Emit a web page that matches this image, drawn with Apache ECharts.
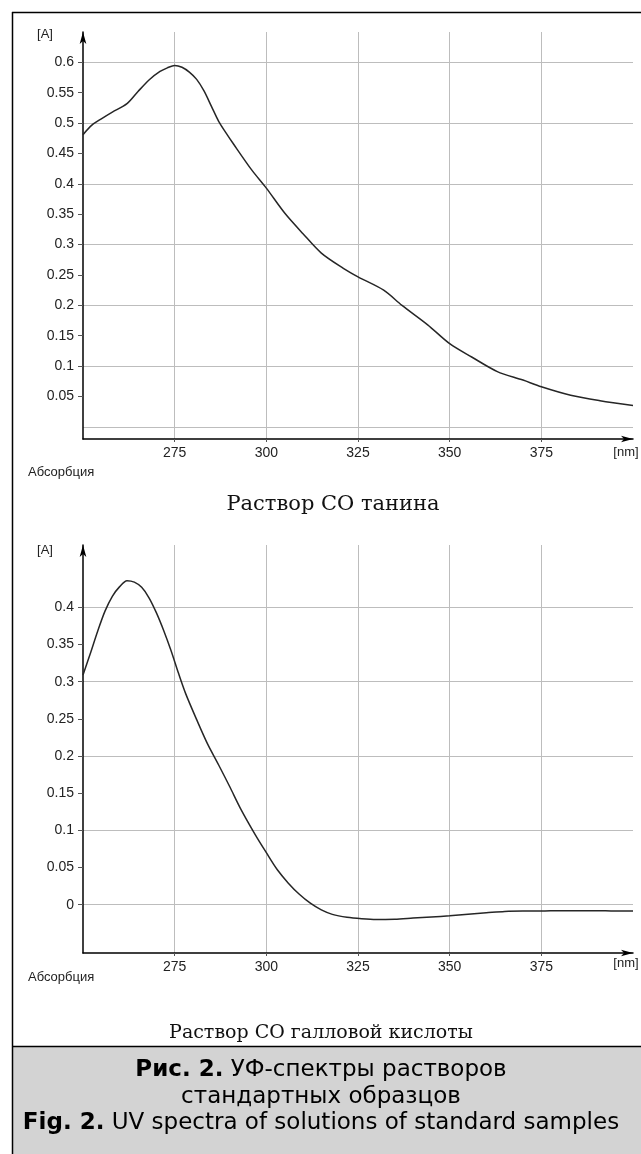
<!DOCTYPE html>
<html>
<head>
<meta charset="utf-8">
<script src="https://cdn.jsdelivr.net/npm/echarts@6/dist/echarts.min.js"></script>
<style>
  html, body { margin: 0; padding: 0; background: #fff; }
  #chart { width: 641px; height: 1154px; }
</style>
</head>
<body>
<div id="chart"></div>
<script>
// wavelength (nm) / absorbance
const tanninWl = [250, 252.5, 255, 258, 262, 265, 268, 271, 273, 275, 277, 279, 281, 283, 285, 287, 289, 291, 296, 300, 305, 310, 315, 321, 325, 332, 337, 344, 350, 356, 363, 370, 375, 383, 391, 400]
const tanninAbs = [0.481, 0.497, 0.507, 0.518, 0.532, 0.552, 0.571, 0.585, 0.591, 0.595, 0.592, 0.584, 0.572, 0.553, 0.528, 0.503, 0.484, 0.466, 0.423, 0.393, 0.352, 0.318, 0.286, 0.261, 0.247, 0.225, 0.2, 0.168, 0.137, 0.115, 0.091, 0.077, 0.066, 0.052, 0.043, 0.035]

const gallicWl = [250, 252, 254, 256, 258, 260, 262, 264, 266, 268, 270, 272, 274, 276, 278, 281, 284, 287, 290, 293, 297, 300, 303, 306, 309, 312, 315, 318, 322, 326, 330, 335, 340, 345, 350, 355, 360, 365, 370, 375, 380, 385, 390, 395, 400]
const gallicAbs = [0.309, 0.338, 0.368, 0.395, 0.415, 0.428, 0.436, 0.434, 0.427, 0.413, 0.393, 0.369, 0.342, 0.312, 0.284, 0.249, 0.216, 0.188, 0.159, 0.129, 0.094, 0.07, 0.047, 0.029, 0.014, 0.002, -0.007, -0.013, -0.017, -0.019, -0.02, -0.0195, -0.018, -0.0165, -0.015, -0.013, -0.011, -0.009, -0.0085, -0.0085, -0.008, -0.008, -0.008, -0.0085, -0.0085]

const xTicks = [275, 300, 325, 350, 375]
const tanninLabels = [0.05, 0.1, 0.15, 0.2, 0.25, 0.3, 0.35, 0.4, 0.45, 0.5, 0.55, 0.6]
const tanninGrid = [0, 0.1, 0.2, 0.3, 0.4, 0.5, 0.6]
const gallicLabels = [0, 0.05, 0.1, 0.15, 0.2, 0.25, 0.3, 0.35, 0.4]
const gallicGrid = [0, 0.1, 0.2, 0.3, 0.4]

const titles = ['Раствор СО танина', 'Раствор СО галловой кислоты']

const numFont = 'Liberation Sans, Arial, sans-serif'
const capFont = 'DejaVu Sans, sans-serif'
const gridColor = '#bdbdbd'

const zip = (xs, ys) => xs.map((x, i) => [x, ys[i]])
const fmt = (v) => String(Math.round(v * 100) / 100)

const makeX = (gridIndex) => ({
  type: 'value',
  gridIndex,
  min: 250,
  max: 400,
  axisLine: {
    show: true,
    onZero: false,
    lineStyle: { color: '#000', width: 1.5 },
    symbol: ['none', 'arrow'],
    symbolSize: [5, 12],
  },
  axisTick: { show: true, customValues: xTicks, length: 3, lineStyle: { color: '#555' } },
  axisLabel: { customValues: xTicks, margin: 7, color: '#222', fontSize: 14, fontFamily: numFont },
  splitLine: { show: true, lineStyle: { color: gridColor, width: 1 } },
})

const makeY = (gridIndex, min, max, labels) => ({
  type: 'value',
  gridIndex,
  position: 'left',
  min,
  max,
  axisLine: {
    show: true,
    onZero: false,
    lineStyle: { color: '#000', width: 1.5 },
    symbol: ['none', 'arrow'],
    symbolSize: [5, 12],
  },
  axisTick: { show: true, customValues: labels, length: 5, lineStyle: { color: '#555' } },
  axisLabel: { customValues: labels, margin: 9, color: '#222', fontSize: 14, fontFamily: numFont, formatter: fmt },
  splitLine: { show: false },
})

// second y axis per grid only draws the horizontal grid lines (every 0.1)
const makeYGrid = (gridIndex, min, max, values) => ({
  type: 'value',
  gridIndex,
  position: 'left',
  min,
  max,
  axisLine: { show: false },
  axisTick: { show: false, customValues: values },
  axisLabel: { show: false },
  splitLine: { show: true, lineStyle: { color: gridColor, width: 1 } },
})

const txt = (x, y, text, style) => ({
  type: 'text',
  x,
  y,
  silent: true,
  style: Object.assign({ text, fill: '#222', align: 'center', verticalAlign: 'middle' }, style),
})

const richCaption = (y, text) => ({
  type: 'text',
  x: 321,
  y,
  silent: true,
  style: {
    text,
    align: 'center',
    verticalAlign: 'middle',
    fontSize: 23,
    fontFamily: capFont,
    fill: '#000',
    rich: { b: { fontWeight: 'bold', fontSize: 23, fontFamily: capFont, fill: '#000' } },
  },
})

const chart = echarts.init(document.getElementById('chart'))

chart.setOption({
  animation: false,
  backgroundColor: '#fff',
  grid: [
    { left: 83, right: 8, top: 32, height: 407 },
    { left: 83, right: 8, top: 545, height: 408 },
  ],
  xAxis: [makeX(0), makeX(1)],
  yAxis: [
    makeYGrid(0, -0.02, 0.65, tanninGrid),
    makeY(0, -0.02, 0.65, tanninLabels),
    makeYGrid(1, -0.065, 0.484, gallicGrid),
    makeY(1, -0.065, 0.484, gallicLabels),
  ],
  series: [
    {
      type: 'line',
      xAxisIndex: 0,
      yAxisIndex: 1,
      data: zip(tanninWl, tanninAbs),
      smooth: 0.3,
      showSymbol: false,
      lineStyle: { color: '#262626', width: 1.5 },
    },
    {
      type: 'line',
      xAxisIndex: 1,
      yAxisIndex: 3,
      data: zip(gallicWl, gallicAbs),
      smooth: 0.3,
      showSymbol: false,
      lineStyle: { color: '#262626', width: 1.5 },
    },
  ],
  graphic: [
    // frame
    { type: 'rect', silent: true, shape: { x: 13, y: 1047, width: 628, height: 107 }, style: { fill: '#d3d3d3' } },
    { type: 'line', silent: true, shape: { x1: 12.5, y1: 12, x2: 12.5, y2: 1154 }, style: { stroke: '#000', lineWidth: 1.5 } },
    { type: 'line', silent: true, shape: { x1: 12, y1: 12.5, x2: 641, y2: 12.5 }, style: { stroke: '#000', lineWidth: 1.5 } },
    { type: 'line', silent: true, shape: { x1: 12, y1: 1046.5, x2: 641, y2: 1046.5 }, style: { stroke: '#000', lineWidth: 1.5 } },
    // axis captions
    txt(45, 34, '[A]', { fontSize: 13, fontFamily: numFont }),
    txt(45, 550, '[A]', { fontSize: 13, fontFamily: numFont }),
    txt(626, 452, '[nm]', { fontSize: 13, fontFamily: numFont }),
    txt(626, 963, '[nm]', { fontSize: 13, fontFamily: numFont }),
    txt(28, 472, 'Абсорбция', { align: 'left', fontSize: 13, fontFamily: numFont }),
    txt(28, 977, 'Абсорбция', { align: 'left', fontSize: 13, fontFamily: numFont }),
    // sub titles
    txt(333, 505, titles[0], { fontSize: 21, fontFamily: 'DejaVu Serif, serif', fill: '#111' }),
    txt(321, 1033, titles[1], { fontSize: 19, fontFamily: 'DejaVu Serif, serif', fill: '#111' }),
    // figure caption
    richCaption(1070, '{b|Рис. 2.} УФ-спектры растворов'),
    txt(321, 1097, 'стандартных образцов', { fontSize: 23, fontFamily: capFont, fill: '#000' }),
    richCaption(1123, '{b|Fig. 2.} UV spectra of solutions of standard samples'),
  ],
})
</script>
</body>
</html>
